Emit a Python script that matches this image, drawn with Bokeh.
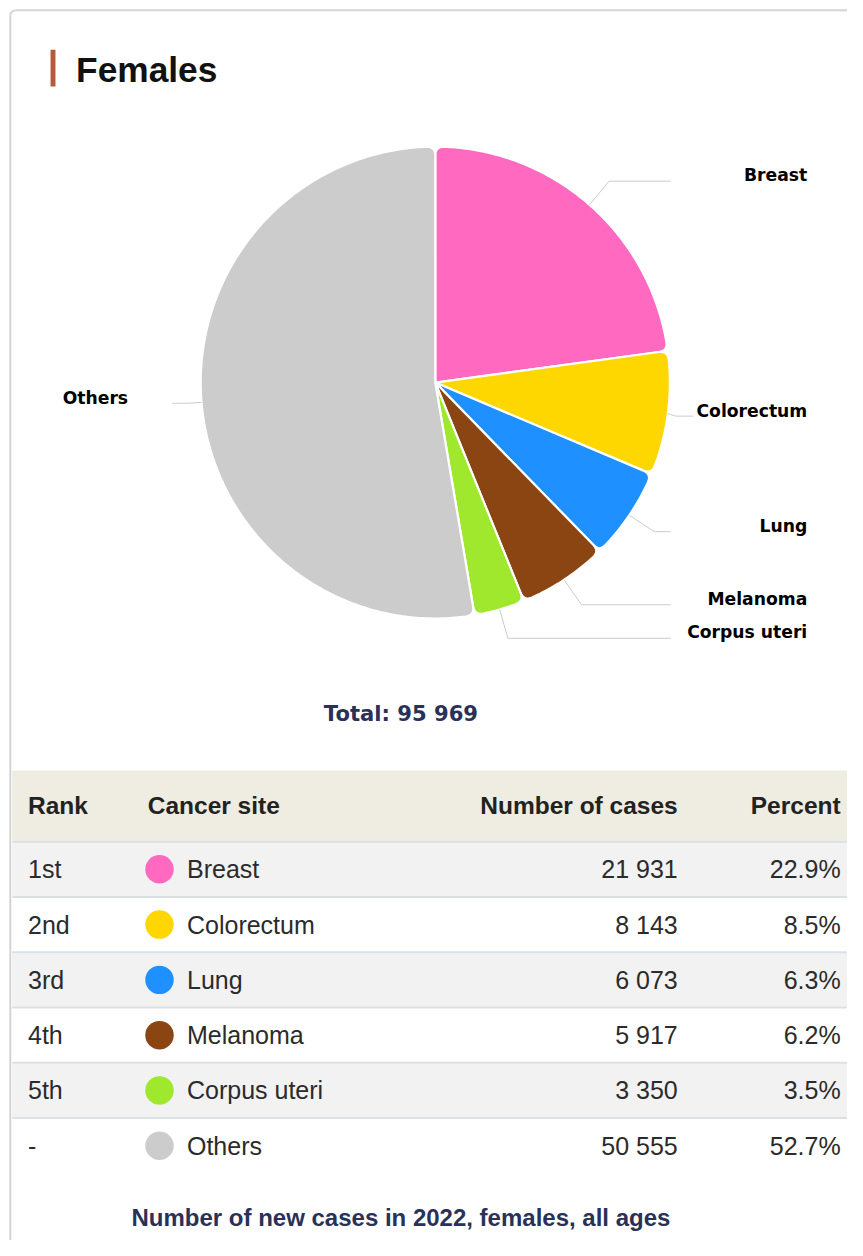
import math
from bokeh.plotting import figure
from bokeh.models import Range1d, ColumnDataSource
from bokeh.core.properties import value
from bokeh.embed import file_html
from bokeh.resources import INLINE

# ---------------- data ----------------
sites = ["Breast", "Colorectum", "Lung", "Melanoma", "Corpus uteri", "Others"]
ranks = ["1st", "2nd", "3rd", "4th", "5th", "-"]
cases = [21931, 8143, 6073, 5917, 3350, 50555]
colors = ["#ff69bf", "#ffd700", "#1e90ff", "#8b4513", "#a0e82e", "#cccccc"]
title_text = "Females"
footer_text = "Number of new cases in 2022, females, all ages"
headers = ["Rank", "Cancer site", "Number of cases", "Percent"]

total = sum(cases)

def fmt(n):
    return f"{n:,}".replace(",", " ")

pct = [c / total * 100 for c in cases]
pct_text = [f"{v:.1f}%" for v in pct]

# ---------------- layout (reference pixels; y is negated for data) ----------------
W, H = 847, 1240
RW, RH = 863, 1256
S = W / RW  # font scale

def fs(px):
    return f"{px * S:.1f}px"

p = figure(width=W, height=H, output_backend="svg", toolbar_location=None,
           x_range=Range1d(0, RW), y_range=Range1d(-RH, 0),
           min_border=0, min_border_left=0, min_border_right=0,
           min_border_top=0, min_border_bottom=0)
p.axis.visible = False
p.grid.visible = False
p.outline_line_color = None
p.background_fill_color = "white"
p.border_fill_color = "white"

def Y(v):
    return -v

# card border
border_col = "#d4d4d4"
p.segment(x0=[15], y0=[Y(10)], x1=[RW], y1=[Y(10)], line_color=border_col, line_width=2)
p.segment(x0=[10], y0=[Y(15)], x1=[10], y1=[Y(RH)], line_color=border_col, line_width=2)
p.arc(x=[15], y=[Y(15)], radius=5, start_angle=math.pi / 2, end_angle=math.pi,
      line_color=border_col, line_width=2)

# title
p.quad(left=[51], right=[56], top=[Y(50)], bottom=[Y(87)], fill_color="#b65a3c", line_color=None)
p.text(x=[77], y=[Y(70)], text=[title_text], text_font=value("Liberation Sans"),
       text_font_style="bold", text_font_size=fs(36), text_baseline="middle",
       text_align="left", text_color="#111111")

# pie (slices with rounded outer corners)
cx, cy, R, rr = 443, 387, 239, 9

def pt(a, r):
    return (cx + r * math.sin(a), cy - r * math.cos(a))

def bez(p0, c, p2, n=8):
    out = []
    for i in range(n + 1):
        t = i / n
        x = (1 - t) ** 2 * p0[0] + 2 * (1 - t) * t * c[0] + t ** 2 * p2[0]
        y = (1 - t) ** 2 * p0[1] + 2 * (1 - t) * t * c[1] + t ** 2 * p2[1]
        out.append((x, y))
    return out

def slice_poly(a0, a1):
    da = rr / R
    r_in = rr
    if (a1 - a0) < 2.2 * da:
        da = (a1 - a0) / 2.2
        r_in = da * R
    pts = [(cx, cy)]
    pts += bez(pt(a0, R - r_in), pt(a0, R), pt(a0 + da, R))
    na = max(4, int(math.degrees(a1 - a0 - 2 * da) * 1.5))
    for i in range(1, na):
        pts.append(pt(a0 + da + (a1 - a0 - 2 * da) * i / na, R))
    pts += bez(pt(a1 - da, R), pt(a1, R), pt(a1, R - r_in))
    return [q[0] for q in pts], [Y(q[1]) for q in pts]

sxs, sys_, mids = [], [], []
acc = 0.0
for c in cases:
    a0 = acc / total * 2 * math.pi
    acc += c
    a1 = acc / total * 2 * math.pi
    xx, yy = slice_poly(a0, a1)
    sxs.append(xx)
    sys_.append(yy)
    mids.append((a0 + a1) / 2)

pie_src = ColumnDataSource(dict(xs=sxs, ys=sys_, color=colors))
p.patches(xs="xs", ys="ys", fill_color="color", line_color="white", line_width=2.2,
          line_join="round", source=pie_src)

# data labels with connectors
label_y = [177, 416, 532, 606, 640, 403]
label_x = [822, 822, 822, 822, 822, 130]
elbow = [(620, 183), (688, 421), (666, 538), (592, 612), (517, 646), (190, 408)]
conn_end_x = [683, 706, 683, 683, 683, 175]
xs, ys = [], []
for m, (ex, ey), endx in zip(mids, elbow, conn_end_x):
    sx, sy = pt(m, R)
    xs.append([sx, ex, endx])
    ys.append([Y(sy), Y(ey), Y(ey)])
p.multi_line(xs=xs, ys=ys, line_color="#cccccc", line_width=1)
p.text(x=label_x, y=[Y(v) for v in label_y], text=sites, text_font=value("DejaVu Sans"),
       text_font_style="bold", text_font_size=fs(17.5), text_baseline="middle",
       text_align="right", text_color="#000000")

# total
p.text(x=[408], y=[Y(722)], text=[f"Total: {fmt(total)}"], text_font=value("DejaVu Sans"),
       text_font_style="bold", text_font_size=fs(21.5), text_baseline="middle",
       text_align="center", text_color="#2a3158")

# table
tx0, tx1 = 12, RW
head_top, head_bot = 780, 851
row_h = 56
row0 = 853
p.quad(left=[tx0], right=[tx1], top=[Y(head_top)], bottom=[Y(head_bot)],
       fill_color="#efede2", line_color=None)
p.quad(left=[tx0], right=[tx1], top=[Y(head_bot)], bottom=[Y(head_bot + 2.5)],
       fill_color="#dde0e3", line_color=None)

n = len(sites)
row_tops = [row0 + i * row_h for i in range(n)]
row_fill = ["#f2f2f2" if i % 2 == 0 else "#ffffff" for i in range(n)]
p.quad(left=[tx0] * n, right=[tx1] * n, top=[Y(t) for t in row_tops],
       bottom=[Y(t + row_h - 2) for t in row_tops], fill_color=row_fill, line_color=None)
sep = [t + row_h - 2 for t in row_tops[:-1]]
p.quad(left=[tx0] * len(sep), right=[tx1] * len(sep), top=[Y(s) for s in sep],
       bottom=[Y(s + 2) for s in sep], fill_color="#dde0e3", line_color=None)

head_y = 815
hx = [28, 150, 690, 856]
halign = ["left", "left", "right", "right"]
p.text(x=hx, y=[Y(head_y)] * 4, text=headers, text_align=halign,
       text_font=value("Liberation Sans"), text_font_style="bold", text_font_size=fs(25),
       text_baseline="middle", text_color="#222222")

row_c = [Y(t + (row_h - 2) / 2) for t in row_tops]
txt_col = "#2b2b2b"
body_kw = dict(text_font=value("Liberation Sans"), text_font_size=fs(25.5),
               text_baseline="middle", text_color=txt_col)
p.text(x=[28] * n, y=row_c, text=ranks, text_align="left", **body_kw)
p.circle(x=[162] * n, y=row_c, radius=14.5, fill_color=colors, line_color=None)
p.text(x=[190] * n, y=row_c, text=sites, text_align="left", **body_kw)
p.text(x=[690] * n, y=row_c, text=[fmt(c) for c in cases], text_align="right", **body_kw)
p.text(x=[856] * n, y=row_c, text=pct_text, text_align="right", **body_kw)

# footer
p.text(x=[408], y=[Y(1233)], text=[footer_text], text_font=value("Liberation Sans"),
       text_font_style="bold", text_font_size=fs(24.5), text_baseline="middle",
       text_align="center", text_color="#2a3158")

open("out.html", "w").write(file_html(p, INLINE))
